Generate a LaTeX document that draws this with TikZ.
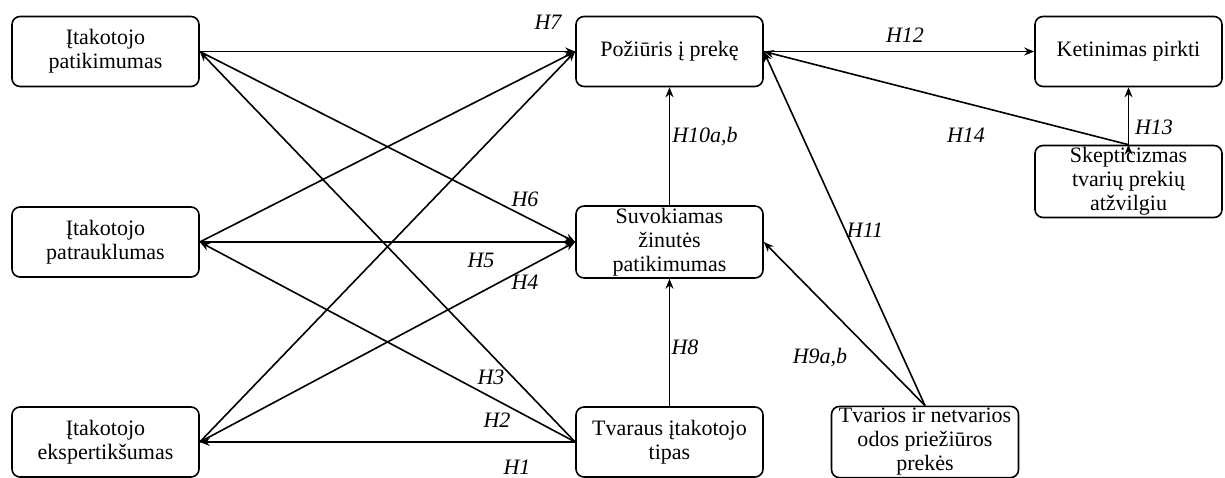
\documentclass[tikz,border=0pt]{standalone}
\usepackage{fontspec}
\setmainfont{Liberation Serif}
\usetikzlibrary{arrows.meta}

\begin{document}
\begin{tikzpicture}
  [x=0.5pt,y=-0.5pt,
   every node/.style={font=\fontsize{11}{12}\selectfont},
   box/.style={draw,thick,rounded corners=4pt,align=center,
     minimum width=93.5pt,minimum height=35pt,inner sep=1pt},
   hyp/.style={font=\fontsize{11}{12}\selectfont\itshape,inner sep=0pt}]
  \useasboundingbox (0,0) rectangle (1225,477);
  \node[box] (a1) at (105.5,51.5) {Įtakotojo\\patikimumas};
  \node[box] (a2) at (105.5,242) {Įtakotojo\\patrauklumas};
  \node[box] (a3) at (105.5,442) {Įtakotojo\\ekspertikšumas};
  \node[box] (p)  at (669.5,51.5) {Požiūris į prekę};
  \node[box] (s)  at (669.5,242) {Suvokiamas\\žinutės\\patikimumas};
  \node[box] (t)  at (669.5,442) {Tvaraus įtakotojo\\tipas};
  \node[box] (g)  at (925,442) {Tvarios ir netvarios\\odos priežiūros\\prekės};
  \node[box] (k)  at (1128.5,51.5) {Ketinimas pirkti};
  \node[box] (sk) at (1128.5,181.5) {Skepticizmas\\tvarių prekių\\atžvilgiu};

  \path[-{Stealth[length=5pt,width=4pt]}, draw, thick]
        (a1.east) edge (p.west)
        (a1.east) edge (s.west)
        (a2.east) edge (p.west)
        (a2.east) edge (s.west)
        (a3.east) edge (p.west)
        (a3.east) edge (s.west)
        (t.west) edge (a1.east)
        (t.west) edge (a2.east)
        (t.west) edge (a3.east)
        (s.north) edge (p.south)
        (t.north) edge (s.south)
        (g.north) edge (s.east)
        (g.north) edge (p.east)
        (p.east) edge (k.west)
        (sk.north) edge (k.south)
        (sk.north) edge (p.east);

  \node[hyp] (h7)  at (548,22)  {H7};
  \node[hyp] (h6)  at (525,199) {H6};
  \node[hyp] (h5)  at (481,260) {H5};
  \node[hyp] (h4)  at (525,282) {H4};
  \node[hyp] (h3)  at (491,377) {H3};
  \node[hyp] (h2)  at (497,420) {H2};
  \node[hyp] (h1)  at (517,467) {H1};
  \node[hyp] (h10) at (705,137) {H10a,b};
  \node[hyp] (h8)  at (685,347) {H8};
  \node[hyp] (h9)  at (820,358) {H9a,b};
  \node[hyp] (h11) at (865,230) {H11};
  \node[hyp] (h12) at (905,35)  {H12};
  \node[hyp] (h14) at (966,135) {H14};
  \node[hyp] (h13) at (1154,127) {H13};

\end{tikzpicture}
\end{document}
